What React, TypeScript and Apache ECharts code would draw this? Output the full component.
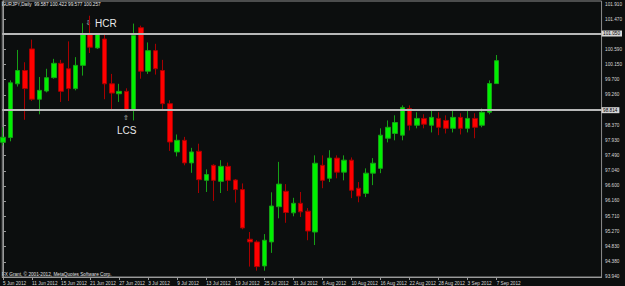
import { useEffect, useRef } from "react";
import * as echarts from "echarts";

const chartTitle = "EURJPY,Daily  99.587 100.422 99.577 100.257";
const footerText = "FX Grant, © 2001-2012, MetaQuotes Software Corp.";

const opens = [
  97.87, 98.01, 99.58, 99.97, 100.6, 99.13, 99.37, 99.76, 100.18, 100.02,
  99.44, 100.12, 101.04, 100.63, 100.89, 99.58, 99.29, 99.36, 98.82, 101.22,
  99.95, 100.55, 99.97, 99.0, 97.59, 97.93, 97.27, 97.61, 96.76, 97.2,
  96.73, 97.17, 96.77, 96.49, 95.04, 94.96, 94.26, 94.96, 95.99, 96.44,
  95.81, 96.09, 95.86, 95.25, 97.2, 96.82, 97.41, 97.0, 97.35, 96.53,
  96.38, 96.97, 97.11, 97.99, 98.13, 98.08, 98.86, 98.37, 98.57, 98.37,
  98.57, 98.51, 98.28, 98.6, 98.28, 98.57, 98.37, 98.75, 99.587,
];
const highs = [
  98.31, 99.68, 100.57, 100.21, 100.87, 99.78, 100.02, 100.31, 100.28, 100.82,
  100.36, 101.35, 101.57, 101.06, 101.02, 99.87, 99.58, 99.45, 101.34, 101.28,
  100.79, 100.75, 100.28, 99.1, 98.1, 98.03, 97.71, 97.83, 97.08, 97.23,
  97.35, 97.28, 96.8, 96.67, 95.25, 95.01, 95.19, 96.41, 97.3, 96.65,
  96.25, 96.42, 95.95, 97.49, 97.49, 97.64, 97.49, 97.49, 97.43, 96.71,
  97.11, 97.41, 98.28, 98.51, 98.66, 98.95, 98.95, 98.75, 98.69, 98.8,
  98.75, 98.66, 98.8, 98.72, 98.8, 98.72, 98.86, 99.68, 100.422,
];
const lows = [
  97.78, 97.9, 99.5, 98.53, 99.08, 98.69, 99.33, 99.73, 99.05, 99.08,
  99.39, 99.82, 100.48, 100.6, 99.13, 98.8, 99.05, 98.78, 98.51, 99.73,
  99.87, 99.85, 98.8, 97.62, 97.46, 97.2, 96.98, 96.39, 96.42, 96.16,
  96.39, 96.45, 96.11, 95.33, 94.24, 94.12, 94.12, 94.64, 95.65, 95.52,
  95.71, 95.69, 95.01, 94.87, 96.53, 96.71, 96.82, 96.76, 96.24, 96.12,
  96.27, 96.62, 96.97, 97.87, 97.93, 97.93, 98.22, 98.28, 98.28, 98.16,
  98.08, 98.13, 98.16, 98.1, 98.16, 97.99, 98.31, 98.69, 99.577,
];
const closes = [
  98.02, 99.61, 99.97, 99.44, 99.13, 99.39, 99.76, 100.18, 99.36, 99.44,
  100.12, 101.04, 100.65, 101.04, 99.58, 99.31, 99.36, 98.82, 100.99, 99.95,
  100.55, 100.02, 99.0, 97.88, 97.93, 97.27, 97.59, 96.78, 96.93, 96.76,
  97.17, 96.76, 96.49, 95.37, 94.96, 94.24, 95.01, 96.01, 96.65, 95.82,
  96.09, 95.84, 95.28, 97.26, 96.76, 97.41, 97.0, 97.35, 96.47, 96.3,
  96.97, 97.26, 98.08, 98.31, 98.45, 98.89, 98.37, 98.57, 98.4, 98.6,
  98.31, 98.28, 98.6, 98.28, 98.57, 98.31, 98.75, 99.59, 100.257,
];

const xTickIndex = [0, 4, 8, 12, 16, 20, 24, 28, 32, 36, 40, 44, 48, 52, 56, 60, 64, 68];
const xTickLabels = [
  "5 Jun 2012", "11 Jun 2012", "15 Jun 2012", "21 Jun 2012", "27 Jun 2012",
  "3 Jul 2012", "9 Jul 2012", "13 Jul 2012", "19 Jul 2012", "25 Jul 2012",
  "31 Jul 2012", "6 Aug 2012", "10 Aug 2012", "16 Aug 2012", "22 Aug 2012",
  "28 Aug 2012", "3 Sep 2012", "7 Sep 2012",
];
const yTickValues = [
  101.91, 101.47, 100.59, 100.15, 99.7, 99.26, 98.37, 97.93, 97.49, 97.04,
  96.6, 96.16, 95.71, 95.27, 94.83, 94.38, 93.94,
];
const levelValues = [101.05, 100.257, 98.814];
const levelLabels = ["101.050", "100.257", "98.814"];
const levelLineShown = [true, false, true];

export default function App() {
  const ref = useRef<HTMLDivElement>(null);
  useEffect(() => {
    if (!ref.current) return;
    const chart = echarts.init(ref.current, null, { renderer: "svg" });
    const data = opens.map((o, i) => [i, o, closes[i], lows[i], highs[i]]);
    const smallFont = { fontSize: 4.7, fontFamily: "Liberation Sans", color: "#d8d8d8" };
    chart.setOption({
      animation: false,
      backgroundColor: "#0c0e0e",
      grid: {
        left: 1,
        top: 1,
        right: 18,
        bottom: 9,
        show: true,
        borderColor: "#8c8c8c",
        borderWidth: 1,
        backgroundColor: "transparent",
      },
      xAxis: {
        type: "value",
        min: -0.1,
        max: 82.45,
        position: "bottom",
        axisLine: { show: true, lineStyle: { color: "#9a9a9a", width: 1 } },
        axisTick: {
          show: true,
          customValues: xTickIndex,
          length: 3,
          lineStyle: { color: "#9a9a9a" },
        },
        axisLabel: {
          show: true,
          customValues: xTickIndex,
          ...smallFont,
          align: "left",
          margin: 3.5,
          formatter: (v: number) => {
            const k = xTickIndex.indexOf(Math.round(v));
            return k >= 0 ? xTickLabels[k] : "";
          },
        },
        splitLine: { show: false },
      },
      yAxis: {
        type: "value",
        position: "right",
        min: 93.936,
        max: 102.0,
        axisLine: { show: true, lineStyle: { color: "#9a9a9a", width: 1 } },
        axisTick: {
          show: true,
          customValues: yTickValues,
          length: 3,
          lineStyle: { color: "#9a9a9a" },
        },
        axisLabel: {
          show: true,
          customValues: yTickValues,
          ...smallFont,
          margin: 3.5,
          formatter: (v: number) => v.toFixed(3),
        },
        splitLine: { show: false },
      },
      series: [
        {
          type: "candlestick",
          data,
          encode: { x: 0, y: [1, 2, 3, 4] },
          barWidth: 5,
          clip: true,
          itemStyle: {
            color: "#00f000",
            color0: "#ff0000",
            borderColor: "#16a016",
            borderColor0: "#a80000",
            borderWidth: 1,
          },
          markLine: {
            silent: true,
            symbol: ["none", "none"],
            lineStyle: { color: "#b8b8b8", width: 2, type: "solid" },
            label: {
              show: true,
              position: "end",
              distance: 0,
              fontSize: 4.7,
              fontFamily: "Liberation Sans",
              color: "#000000",
              backgroundColor: "#d6d6d6",
              padding: [0.5, 2, 0.5, 1.5],
              formatter: (p: any) => levelLabels[p.dataIndex],
            },
            data: levelValues.map((v, i) => ({
              yAxis: v,
              lineStyle: levelLineShown[i]
                ? { color: "#b8b8b8", width: 2, type: "solid" }
                : { opacity: 0 },
            })),
          },
        },
      ],
      graphic: [
        {
          type: "text",
          x: 2,
          y: 4.7,
          style: {
            text: chartTitle,
            fill: "#e6e6e6",
            fontSize: 4.7,
            fontFamily: "Liberation Sans",
            verticalAlign: "middle",
          },
        },
        {
          type: "text",
          x: 2,
          y: 274.3,
          style: {
            text: footerText,
            fill: "#e0e0e0",
            fontSize: 4.7,
            fontFamily: "Liberation Sans",
            verticalAlign: "middle",
          },
        },
        {
          type: "text",
          x: 88.5,
          y: 23,
          style: {
            text: "⇩",
            fill: "#cfcfcf",
            fontSize: 7,
            fontFamily: "DejaVu Sans",
            align: "center",
            verticalAlign: "middle",
          },
        },
        {
          type: "text",
          x: 95,
          y: 23,
          style: {
            text: "HCR",
            fill: "#e8e8e8",
            fontSize: 10,
            fontFamily: "Liberation Sans",
            verticalAlign: "middle",
          },
        },
        {
          type: "text",
          x: 126,
          y: 118,
          style: {
            text: "⇧",
            fill: "#cfcfcf",
            fontSize: 7,
            fontFamily: "DejaVu Sans",
            align: "center",
            verticalAlign: "middle",
          },
        },
        {
          type: "text",
          x: 117,
          y: 130.5,
          style: {
            text: "LCS",
            fill: "#e8e8e8",
            fontSize: 10,
            fontFamily: "Liberation Sans",
            verticalAlign: "middle",
          },
        },
      ],
    });
    return () => chart.dispose();
  }, []);
  return (
    <div
      ref={ref}
      style={{ position: "fixed", left: 0, top: 0, width: 625, height: 286 }}
    />
  );
}
